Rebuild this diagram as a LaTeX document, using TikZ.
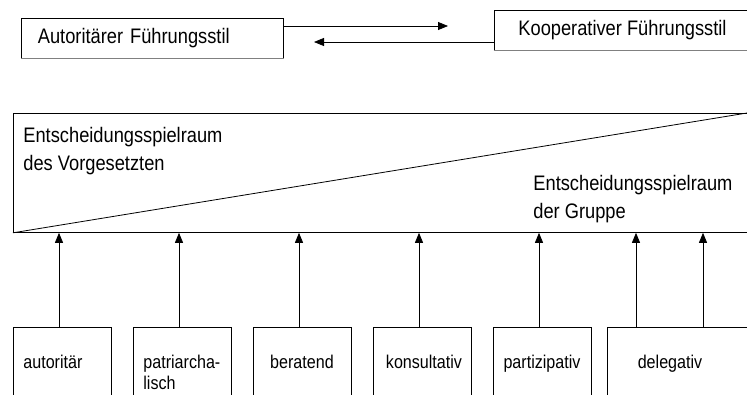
\documentclass[tikz,border=0pt]{standalone}
\usepackage{fontspec}
\setmainfont[FakeStretch=0.87]{Liberation Sans}
\usetikzlibrary{arrows.meta}
\tikzset{
  stilbox/.style={draw,minimum height=40pt,inner xsep=16pt,inner ysep=0pt,font=\fontsize{21}{28}\selectfont},
  raumtext/.style={align=left,inner sep=0pt,font=\fontsize{21}{28}\selectfont},
  stufe/.style={draw,anchor=north west,minimum width=98pt,minimum height=100pt,inner sep=0pt},
  stufetext/.style={inner sep=0pt,font=\fontsize{18.5}{21}\selectfont},
  schatten/.style={gray,line width=1.6pt}
}
\begin{document}
\begin{tikzpicture}[x=1pt,y=-1pt,line width=0.8pt,>={Triangle[length=10pt,width=8pt]}]
	\useasboundingbox (0,0) rectangle (747,394);
	\clip (0,0) rectangle (747,394);
	% die beiden Pole
	\node[stilbox,text width=230pt,align=left] (aut) at (152.85,38) {Autoritärer Führungsstil};
	\node[stilbox,minimum width=257pt,minimum height=39.3pt] (koop) at (622.5,30.3) {Kooperativer Führungsstil};
	\draw[schatten] (aut.south west) -- (aut.south east);
	\draw[schatten] (koop.south west) -- (koop.south east);
	\coordinate (hin) at (448,26);
	\coordinate (rueck) at (314,42);
	\draw[->] ([yshift=12pt]aut.east) -- (hin);
	\draw[->] ([yshift=-11.7pt]koop.west) -- (rueck);
	% Entscheidungsspielraum
	\node[draw,anchor=north west,minimum width=760pt,minimum height=119pt,inner sep=0pt] (raum) at (13,113) {};
	\coordinate (ecke) at (747,113);
	\draw (raum.south west) -- (ecke);
	\node[raumtext,anchor=north west] (chef) at (23,126.5) {Entscheidungsspielraum\\des Vorgesetzten};
	\node[raumtext,anchor=north west] (grp) at (533,175) {Entscheidungsspielraum\\der Gruppe};
	% Stufen
	\node[stufe] (b1) at (13,327) {};
	\node[stufe] (b2) at (133,327) {};
	\node[stufe] (b3) at (253,327) {};
	\node[stufe] (b4) at (373,327) {};
	\node[stufe] (b5) at (493,327) {};
	\node[stufe,minimum width=153pt] (b6) at (607,327) {};
	\node[stufetext,anchor=base west] (l1) at (23,368) {autoritär};
	\node[stufetext,anchor=north west,align=left] (l2) at (143,354.5) {patriarcha-\\lisch};
	\node[stufetext,anchor=base] (l3) at (302,368) {beratend};
	\node[stufetext,anchor=base] (l4) at (424,368) {konsultativ};
	\node[stufetext,anchor=base] (l5) at (542,368) {partizipativ};
	\node[stufetext,anchor=base] (l6) at (670,368) {delegativ};
	\foreach \b/\dx in {b1/46,b2/46,b3/46,b4/46,b5/46,b6/29,b6/96}{
		\path ([xshift=\dx pt]\b.north west) coordinate (p);
		\draw[->] (p) -- (p |- raum.south);
	}
\end{tikzpicture}
\end{document}
